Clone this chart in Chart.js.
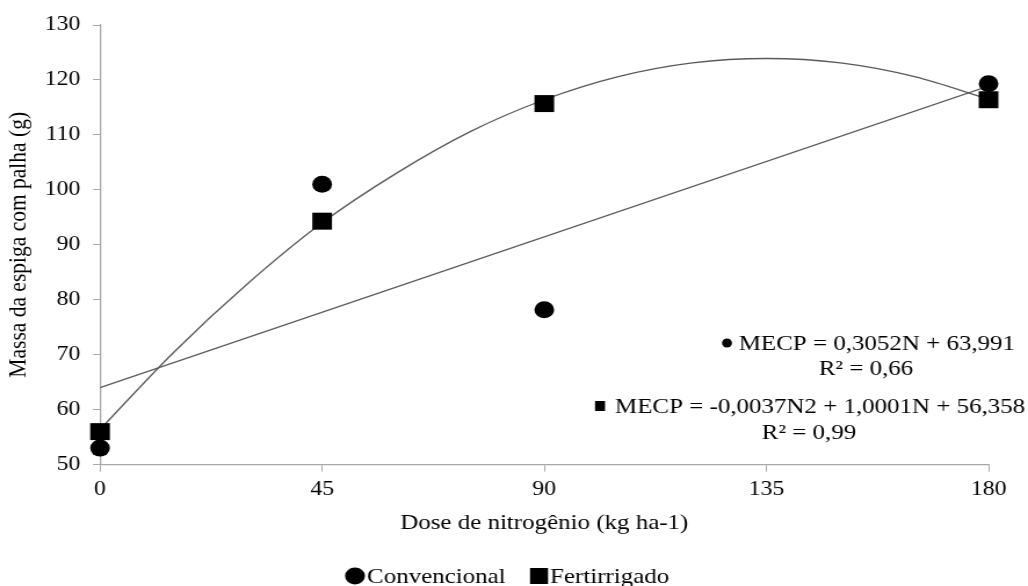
<!DOCTYPE html>
<html>
<head>
<meta charset="utf-8">
<script src="https://cdn.jsdelivr.net/npm/chart.js@4.4.1/dist/chart.umd.min.js"></script>
<style>
    html, body { margin: 0; padding: 0; background: #ffffff; }
</style>
</head>
<body>
<!-- a figura original é esticada na horizontal: canvas estreito, exibido com 1028px -->
<canvas id="grafico" width="886" height="586" style="display:block;width:1028px;height:586px;"></canvas>
<script>
/* =====================================
   DADOS
===================================== */
const dosesN = [0, 45, 90, 180];
const massaConvencional = [53.0, 101.0, 78.2, 119.3];
const massaFertirrigado = [56.0, 94.3, 115.7, 116.4];

// linha de tendência linear (convencional), extremos
const dosesLinear = [0, 180];
const tendenciaLinear = [64.0, 118.9];

// curva de tendência (fertirrigado), valores lidos ao longo da curva
const dosesCurva = [0, 15, 30, 45, 60, 75, 90, 105, 120, 135, 150, 165, 180];
const tendenciaCurva = [56.4, 70.5, 83.0, 94.0, 103.0, 110.6, 116.4, 120.6, 123.1, 123.9, 123.1, 120.6, 116.5];

const ticksX = [0, 45, 90, 135, 180];
const nomesSeries = ["Convencional", "Fertirrigado"];
const equacoes = [
    { simbolo: "circulo", texto: "MECP = 0,3052N + 63,991", r2: "R\u00b2 = 0,66" },
    { simbolo: "quadrado", texto: "MECP = -0,0037N2 + 1,0001N + 56,358", r2: "R\u00b2 = 0,99" }
];

const fonteSerif = "'Liberation Serif', 'Times New Roman', serif";
const corEixo = "#a8a8a8";
const corLinha = "#5a5a5a";

// fator de esticamento horizontal (largura exibida / largura do canvas)
const esticar = 1028 / 886;
const px = (x) => x / esticar;

function pares(xs, ys) {
    return xs.map((x, i) => ({ x: x, y: ys[i] }));
}

/* =====================================
   PLUGIN: EQUAÇÕES E LEGENDA
===================================== */
function desenhaSimbolo(ctx, tipo, cx, cy, larg, alt) {
    ctx.fillStyle = "#000";
    ctx.beginPath();
    if (tipo === "circulo") {
        ctx.ellipse(cx, cy, larg / 2, alt / 2, 0, 0, Math.PI * 2);
    } else {
        ctx.rect(cx - larg / 2, cy - alt / 2, larg, alt);
    }
    ctx.fill();
}

const pluginTextos = {
    id: "textosExtras",
    afterDraw(chart) {
        const ctx = chart.ctx;
        ctx.save();
        ctx.fillStyle = "#000";
        ctx.textBaseline = "alphabetic";
        ctx.font = "21.5px " + fonteSerif;

        // equação 1 (alinhada à direita)
        ctx.textAlign = "right";
        ctx.fillText(equacoes[0].texto, px(1015), 350);
        desenhaSimbolo(ctx, equacoes[0].simbolo, px(727), 343, px(10), 9);
        ctx.fillStyle = "#000";
        ctx.textAlign = "center";
        ctx.fillText(equacoes[0].r2, px(866), 375);

        // equação 2
        ctx.textAlign = "left";
        ctx.fillText(equacoes[1].texto, px(615), 413);
        desenhaSimbolo(ctx, equacoes[1].simbolo, px(600), 406, px(10), 10);
        ctx.fillStyle = "#000";
        ctx.textAlign = "center";
        ctx.fillText(equacoes[1].r2, px(809), 439);

        // legenda inferior
        ctx.textAlign = "left";
        const yBase = 583;
        desenhaSimbolo(ctx, "circulo", px(355), yBase - 7, px(20), 17);
        ctx.fillStyle = "#000";
        ctx.fillText(nomesSeries[0], px(367), yBase);
        desenhaSimbolo(ctx, "quadrado", px(539), yBase - 7, px(18), 16);
        ctx.fillStyle = "#000";
        ctx.fillText(nomesSeries[1], px(550), yBase);
        ctx.restore();
    }
};

/* =====================================
   GRÁFICO CHART.JS
===================================== */
const canvasGrafico = document.getElementById("grafico");

new Chart(canvasGrafico, {
    type: "scatter",
    data: {
        datasets: [
            {
                label: nomesSeries[0],
                data: pares(dosesN, massaConvencional),
                pointStyle: "circle",
                pointRadius: 8.5,
                pointHoverRadius: 8.5,
                backgroundColor: "#000",
                borderColor: "#000",
                borderWidth: 0,
                clip: false,
                order: 1
            },
            {
                label: nomesSeries[1],
                data: pares(dosesN, massaFertirrigado),
                pointStyle: "rect",
                pointRadius: 12,
                pointHoverRadius: 12,
                backgroundColor: "#000",
                borderColor: "#000",
                borderWidth: 0,
                clip: false,
                order: 0
            },
            {
                label: "Linear",
                data: pares(dosesLinear, tendenciaLinear),
                showLine: true,
                pointRadius: 0,
                borderColor: corLinha,
                borderWidth: 1.3,
                order: 3
            },
            {
                label: "Polinomial",
                data: pares(dosesCurva, tendenciaCurva),
                showLine: true,
                pointRadius: 0,
                cubicInterpolationMode: "monotone",
                borderColor: corLinha,
                borderWidth: 1.3,
                order: 2
            }
        ]
    },
    options: {
        responsive: false,
        animation: false,
        layout: {
            padding: { top: 25, right: 34, left: 0, bottom: 50 }
        },
        plugins: {
            legend: { display: false },
            tooltip: { enabled: false }
        },
        scales: {
            x: {
                type: "linear",
                min: 0,
                max: 180,
                afterBuildTicks: (eixo) => {
                    eixo.ticks = ticksX.map(v => ({ value: v }));
                },
                grid: {
                    drawOnChartArea: false,
                    color: corEixo,
                    tickLength: 7
                },
                border: { color: corEixo, width: 1.3 },
                ticks: {
                    color: "#000",
                    padding: 6,
                    font: { family: fonteSerif, size: 20.5 }
                },
                title: {
                    display: true,
                    text: "Dose de nitrogênio (kg ha-1)",
                    color: "#000",
                    font: { family: fonteSerif, size: 21.5 },
                    padding: { top: 2, bottom: 0 }
                }
            },
            y: {
                min: 50,
                max: 130,
                afterFit: (eixo) => { eixo.width = px(100); },
                grid: {
                    drawOnChartArea: false,
                    color: corEixo,
                    tickLength: 6
                },
                border: { color: corEixo, width: 1.3 },
                ticks: {
                    stepSize: 10,
                    color: "#000",
                    padding: 11,
                    font: { family: fonteSerif, size: 20.5 }
                },
                title: {
                    display: true,
                    text: "Massa da espiga com palha (g)",
                    color: "#000",
                    font: { family: fonteSerif, size: 21.5 },
                    padding: { top: 3, bottom: 0 }
                }
            }
        }
    },
    plugins: [pluginTextos]
});
</script>
</body>
</html>
